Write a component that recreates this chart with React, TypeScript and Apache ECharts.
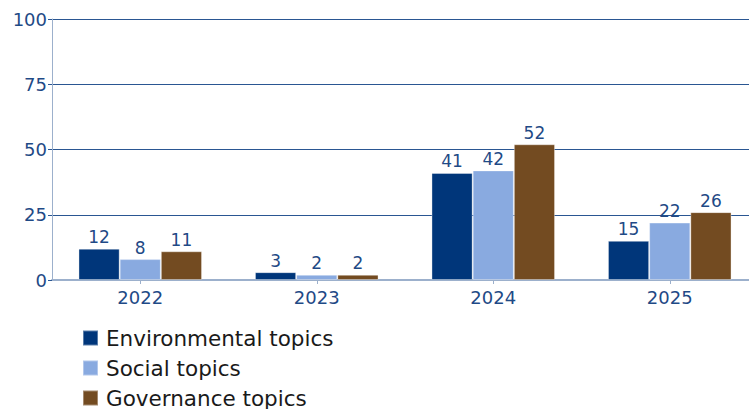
import React, { useEffect, useRef } from "react";
import * as echarts from "echarts";

const categories = ["2022", "2023", "2024", "2025"];
const environmental = [12, 3, 41, 15];
const social = [8, 2, 42, 22];
const governance = [11, 2, 52, 26];
const seriesNames = ["Environmental topics", "Social topics", "Governance topics"];
const colors = ["#00367a", "#89aae0", "#734b21"];

export default function App() {
  const ref = useRef<HTMLDivElement>(null);
  useEffect(() => {
    const chart = echarts.init(ref.current!, null, { renderer: "svg" });
    const font = "'DejaVu Sans', sans-serif";
    const mk = (name: string, data: number[], color: string) => ({
      name,
      type: "bar",
      data,
      barGap: "0%",
      barCategoryGap: "30%",
      itemStyle: { color, borderColor: "rgba(255,255,255,0.35)", borderWidth: 1 },
      label: {
        show: true,
        position: "top",
        distance: 3,
        color: "#1f4a86",
        fontSize: 17,
        fontFamily: font,
      },
    });
    chart.setOption({
      animation: false,
      grid: {
        left: 52,
        right: -9,
        top: 19,
        bottom: 129,
        containLabel: false,
        outerBoundsMode: "none",
      },
      legend: {
        orient: "vertical",
        left: 82,
        top: 327,
        height: 100,
        padding: 0,
        itemWidth: 15,
        itemHeight: 15,
        itemGap: 8,
        icon: "rect",
        textStyle: {
          fontSize: 21.5,
          lineHeight: 22,
          color: "#1a1a1a",
          fontFamily: font,
          padding: [0, 0, 0, 3],
        },
        data: seriesNames,
      },
      xAxis: {
        type: "category",
        data: categories,
        axisLine: { lineStyle: { color: "#9cb0cc", width: 2 } },
        axisTick: { show: true, alignWithLabel: true, length: 4, lineStyle: { color: "#9cb0cc" } },
        axisLabel: { color: "#1f4a86", fontSize: 18, fontFamily: font, margin: 8 },
      },
      yAxis: {
        type: "value",
        min: 0,
        max: 100,
        interval: 25,
        axisLine: { show: true, lineStyle: { color: "#9cb0cc", width: 1 } },
        axisTick: { show: true, length: 4, lineStyle: { color: "#2a5692" } },
        axisLabel: { color: "#1f4a86", fontSize: 18, fontFamily: font, margin: 5 },
        splitLine: { lineStyle: { color: "#2a5692", width: 1 } },
      },
      series: [
        mk(seriesNames[0], environmental, colors[0]),
        mk(seriesNames[1], social, colors[1]),
        mk(seriesNames[2], governance, colors[2]),
      ],
    });
    return () => chart.dispose();
  }, []);
  return <div ref={ref} style={{ width: 749, height: 409, position: "absolute", left: 0, top: 0 }} />;
}
